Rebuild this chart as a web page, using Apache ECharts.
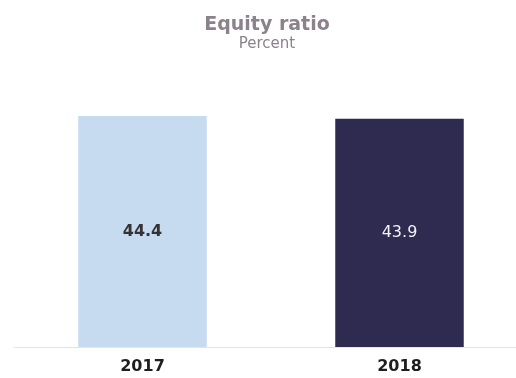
<!DOCTYPE html>
<html>
<head>
<meta charset="utf-8">
<style>
  html, body { margin: 0; padding: 0; background: #ffffff; }
  #chart { width: 516px; height: 378px; }
</style>
<script src="https://cdn.jsdelivr.net/npm/echarts@6/dist/echarts.min.js"></script>
</head>
<body>
<div id="chart"></div>
<script>
// Equity ratio by year, in percent
const years = ['2017', '2018'];
const equityRatio = [44.4, 43.9];
const barColors = ['#c6daf0', '#2f2a50'];
const labelColors = ['#333333', '#f2f2f2'];
const labelWeights = ['bold', 'normal'];

const chart = echarts.init(document.getElementById('chart'), null, { renderer: 'canvas' });

chart.setOption({
  animation: false,
  backgroundColor: '#ffffff',
  title: {
    text: 'Equity ratio',
    subtext: 'Percent',
    left: 262,
    textAlign: 'center',
    top: 11,
    itemGap: 2,
    textStyle: {
      fontFamily: 'DejaVu Sans',
      fontSize: 19,
      fontWeight: 'bold',
      color: '#8c828c'
    },
    subtextStyle: {
      fontFamily: 'DejaVu Sans',
      fontSize: 15,
      color: '#8c828c'
    }
  },
  grid: {
    left: 14,
    width: 514,
    top: 35,
    bottom: 31,
    containLabel: false,
    outerBoundsMode: 'none'
  },
  xAxis: {
    type: 'category',
    data: years,
    axisLine: { show: true, lineStyle: { color: '#e4e4e4', width: 1 } },
    axisTick: { show: false },
    axisLabel: {
      margin: 12,
      fontFamily: 'DejaVu Sans',
      fontSize: 16,
      fontWeight: 'bold',
      color: '#1e1e1e'
    }
  },
  yAxis: {
    type: 'value',
    min: 0,
    max: 60,
    show: false
  },
  series: [{
    type: 'bar',
    barWidth: '50%',
    data: equityRatio.map((v, i) => ({
      value: v,
      itemStyle: { color: barColors[i] },
      label: {
        show: true,
        position: 'inside',
        formatter: (p) => p.value.toFixed(1),
        fontFamily: 'DejaVu Sans',
        fontSize: 16,
        fontWeight: labelWeights[i],
        color: labelColors[i]
      }
    }))
  }]
});
</script>
</body>
</html>
